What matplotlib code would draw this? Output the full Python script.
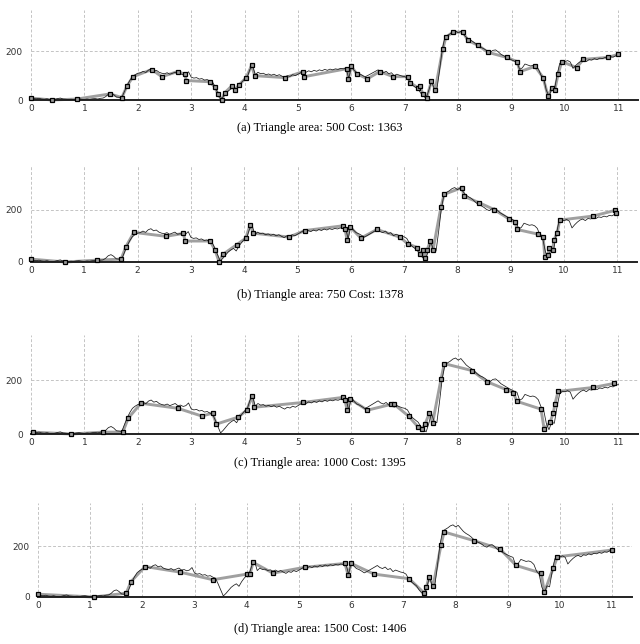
import numpy as np
import matplotlib
matplotlib.use("Agg")
import matplotlib.pyplot as plt

# original signal, sampled every 0.05 from 0 to 11
signal_y = [
    8, 6, 5, 7, 4, 3, 5, 2, 1, 3, 6, 8, 4, 3, 2, 3, 2, 4, 5, 3,
    2, 4, 3, 5, 6, 4, 7, 8, 14, 24, 28, 22, 12, 11, 10, 35, 60, 80, 96, 104,
    110, 112, 118, 113, 123, 127, 119, 122, 114, 110, 108, 112, 106, 110, 114, 106, 108, 103, 106, 116,
    94, 90, 92, 86, 88, 82, 84, 78, 74, 52, 28, 4, 14, 26, 38, 46, 52, 42, 60, 74,
    86, 94, 126, 140, 104, 114, 108, 110, 104, 107, 102, 106, 100, 104, 98, 93, 100, 97, 104, 100,
    106, 112, 118, 114, 120, 116, 122, 118, 124, 120, 126, 122, 127, 124, 128, 126, 130, 128, 132, 88,
    138, 122, 112, 108, 102, 95, 100, 106, 112, 118, 124, 116, 112, 118, 108, 112, 100, 106, 102, 98,
    96, 90, 72, 60, 52, 44, 28, 16, 8, 40, 78, 46, 42, 120, 205, 258, 266, 272, 280, 284,
    276, 282, 270, 258, 250, 244, 236, 226, 218, 214, 208, 200, 196, 204, 206, 198, 188, 182, 176, 170,
    165, 160, 156, 126, 132, 148, 144, 140, 142, 138, 128, 102, 90, 40, 16, 44, 40, 100, 150, 160,
    158, 162, 156, 130, 142, 152, 160, 164, 158, 166, 164, 170, 166, 172, 170, 175, 172, 178, 176, 182,
    185,
]
signal_x = np.linspace(0, 11, len(signal_y))

# simplified polylines (vertices) for each triangle area
a_x = [0, 0.39, 0.86, 1.48, 1.70, 1.80, 1.91, 2.26, 2.45, 2.75, 2.88, 2.91, 3.35, 3.44, 3.50, 3.57,
       3.63, 3.76, 3.82, 3.90, 4.03, 4.13, 4.19, 4.76, 5.10, 5.12, 5.92, 5.94, 6.00, 6.10, 6.30, 6.53,
       6.78, 7.06, 7.10, 7.25, 7.28, 7.34, 7.41, 7.50, 7.57, 7.71, 7.77, 7.90, 8.09, 8.18, 8.37, 8.56,
       8.91, 9.10, 9.16, 9.44, 9.59, 9.68, 9.76, 9.81, 9.87, 9.94, 10.22, 10.34, 10.80, 11.0]
a_y = [8, 0, 4, 25, 10, 58, 96, 125, 96, 117, 106, 80, 75, 54, 25, 0,
       30, 58, 42, 63, 92, 142, 100, 92, 117, 96, 129, 87, 138, 108, 87, 117,
       96, 96, 71, 50, 58, 25, 8, 79, 42, 208, 258, 279, 279, 245, 225, 196,
       175, 158, 117, 138, 92, 17, 50, 42, 106, 158, 133, 167, 175, 188]

b_x = [0, 0.64, 1.23, 1.69, 1.78, 1.93, 2.53, 2.86, 2.89, 3.36, 3.45, 3.53, 3.60, 3.86, 4.03, 4.11,
       4.17, 4.84, 5.14, 5.85, 5.89, 5.93, 5.98, 6.19, 6.49, 6.92, 7.07, 7.25, 7.30, 7.35, 7.39, 7.43,
       7.49, 7.54, 7.69, 7.75, 8.09, 8.12, 8.41, 8.69, 8.97, 9.08, 9.12, 9.52, 9.61, 9.64, 9.70, 9.72,
       9.79, 9.81, 9.87, 9.92, 10.54, 10.96, 10.97]
b_y = [11, 0, 7, 11, 58, 113, 98, 109, 80, 80, 47, 0, 29, 66, 91, 142,
       110, 95, 120, 138, 127, 84, 135, 91, 124, 95, 69, 55, 29, 44, 15, 44,
       80, 44, 208, 258, 284, 251, 226, 200, 164, 153, 124, 106, 95, 18, 26, 55,
       47, 84, 109, 160, 175, 197, 186]

c_x = [0.04, 0.75, 1.35, 1.72, 1.82, 2.06, 2.75, 3.20, 3.40, 3.47, 3.88, 4.04, 4.14, 4.18, 5.10, 5.85,
       5.88, 5.92, 5.98, 6.30, 6.75, 6.80, 7.07, 7.25, 7.32, 7.38, 7.46, 7.52, 7.68, 7.74, 8.26, 8.53,
       8.90, 9.03, 9.10, 9.55, 9.61, 9.72, 9.78, 9.81, 9.87, 10.53, 10.92]
c_y = [7, 0, 7, 7, 59, 115, 96, 67, 78, 37, 63, 89, 141, 100, 118, 137,
       126, 89, 130, 89, 111, 111, 67, 26, 18, 37, 78, 41, 207, 263, 237, 196,
       166, 155, 122, 93, 18, 44, 78, 111, 159, 174, 189]

d_x = [0, 1.07, 1.69, 1.78, 2.05, 2.72, 3.35, 4.00, 4.06, 4.12, 4.50, 5.11, 5.88, 5.94, 6.00, 6.44,
       7.11, 7.40, 7.44, 7.49, 7.57, 7.72, 7.78, 8.35, 8.85, 9.16, 9.64, 9.70, 9.87, 9.95, 11.0]
d_y = [11, 0, 15, 60, 120, 98, 68, 90, 90, 136, 94, 117, 132, 87, 132, 90,
       72, 15, 38, 79, 45, 204, 256, 222, 189, 124, 94, 19, 113, 158, 185]

panels = [
    (a_x, a_y, "(a) Triangle area: 500 Cost: 1363"),
    (b_x, b_y, "(b) Triangle area: 750 Cost: 1378"),
    (c_x, c_y, "(c) Triangle area: 1000 Cost: 1395"),
    (d_x, d_y, "(d) Triangle area: 1500 Cost: 1406"),
]

W, H = 640, 644
fig = plt.figure(figsize=(W / 100, H / 100), dpi=100)

# pixel boxes: left, x-unit width, bottom (zero line), top
boxes = [(31, 53.4, 100, 10), (31, 53.3, 262, 165), (31, 53.4, 434, 335), (38, 52.2, 597, 503)]
caption_y = [128, 295, 463, 629]
xmax = 11.37
ymax = 370

for (px, py, cap), (left, unit, zero, top), cy in zip(panels, boxes, caption_y):
    width = unit * xmax
    ax = fig.add_axes([left / W, 1 - zero / H, width / W, (zero - top) / H])
    ax.set_xlim(0, xmax)
    ax.set_ylim(0, ymax)
    for s in ["top", "right", "left"]:
        ax.spines[s].set_visible(False)
    ax.spines["bottom"].set_linewidth(1.4)
    ax.spines["bottom"].set_color("#222222")
    ax.set_xticks(range(12))
    ax.set_yticks([0, 200])
    ax.tick_params(length=0, labelsize=6.5, colors="#333333", pad=3)
    ax.tick_params(axis="y", pad=6)
    ax.grid(True, color="#c4c4c4", linestyle=(0, (3, 2)), linewidth=0.7)
    ax.set_axisbelow(True)

    ax.plot(px, py, color="#a0a0a0", lw=2.1, zorder=2, clip_on=False)
    ax.plot(signal_x, signal_y, color="#1a1a1a", lw=0.55, zorder=3, clip_on=False)
    ax.plot(px, py, linestyle="none", marker="s", ms=2.8, mfc="#9a9a9a", mec="black",
            mew=0.9, zorder=4, clip_on=False)

    fig.text(0.5, 1 - cy / H, cap, ha="center", va="center",
             family="Liberation Serif", fontsize=9)

fig.savefig("out.png", dpi=100)
